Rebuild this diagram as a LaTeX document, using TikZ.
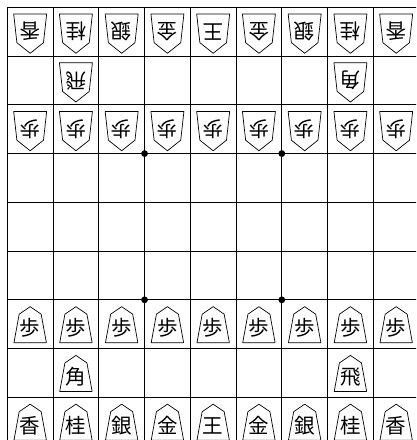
\documentclass[tikz,border=0pt]{standalone}
\usepackage{fontspec}
\newfontfamily\kanji{Noto Sans CJK JP}
\usepackage{tikz}
\usetikzlibrary{calc}
\usepackage{xcolor}
\definecolor{boardline}{RGB}{0,0,0}

% sente piece: column, row, kanji
\newcommand{\sentepiece}[3]{%
  \begin{scope}[shift={({7.3+(#1-0.5)*45.75},{7.3+(#2-0.5)*48.75})}]
    \draw[piece] (0,-17.5) -- (11,-10) -- (16.2,18.5) -- (-16.2,18.5) -- (-11,-10) -- cycle;
    \node[koma] (s#1#2) at (0,4) {#3};
  \end{scope}}
% gote piece: column, row, kanji (upside down)
\newcommand{\gotepiece}[3]{%
  \begin{scope}[shift={({7.3+(#1-0.5)*45.75},{7.3+(#2-0.5)*48.75})}]
    \draw[piece] (-16.5,-17.7) -- (16.5,-17.7) -- (13.3,11) -- (0,21.6) -- (-13.3,11) -- cycle;
    \node[koma,rotate=180] (g#1#2) at (0,0) {#3};
  \end{scope}}

\begin{document}
\begin{tikzpicture}[x=1pt,y=-1pt,
    gridline/.style={line width=0.9pt,boardline},
    piece/.style={line width=0.7pt,line join=round},
    koma/.style={font=\kanji\fontsize{20.5}{20.5}\selectfont,inner sep=0pt}]
    \useasboundingbox (0,0) rectangle (416,440);
    \clip (0,0) rectangle (416,440);
    % board
    \foreach \i in {0,...,9} {
      \draw[gridline] ({7.3+\i*45.75},7.3) -- ({7.3+\i*45.75},446.05);
      \draw[gridline] (7.3,{7.3+\i*48.75}) -- (419.05,{7.3+\i*48.75});
    }
    % star points
    \foreach \a in {3,6} \foreach \b in {3,6}
      \fill[boardline] ({7.3+\a*45.75},{7.3+\b*48.75}) circle (3.4pt);
    % gote side
    \foreach \k [count=\c] in {香,桂,銀,金,王,金,銀,桂,香} {
      \gotepiece{\c}{1}{\k}
      \gotepiece{\c}{3}{歩}
    }
    \gotepiece{2}{2}{飛}
    \gotepiece{8}{2}{角}
    % sente side
    \foreach \k [count=\c] in {香,桂,銀,金,王,金,銀,桂,香} {
      \sentepiece{\c}{9}{\k}
      \sentepiece{\c}{7}{歩}
    }
    \sentepiece{2}{8}{角}
    \sentepiece{8}{8}{飛}
\end{tikzpicture}
\end{document}
